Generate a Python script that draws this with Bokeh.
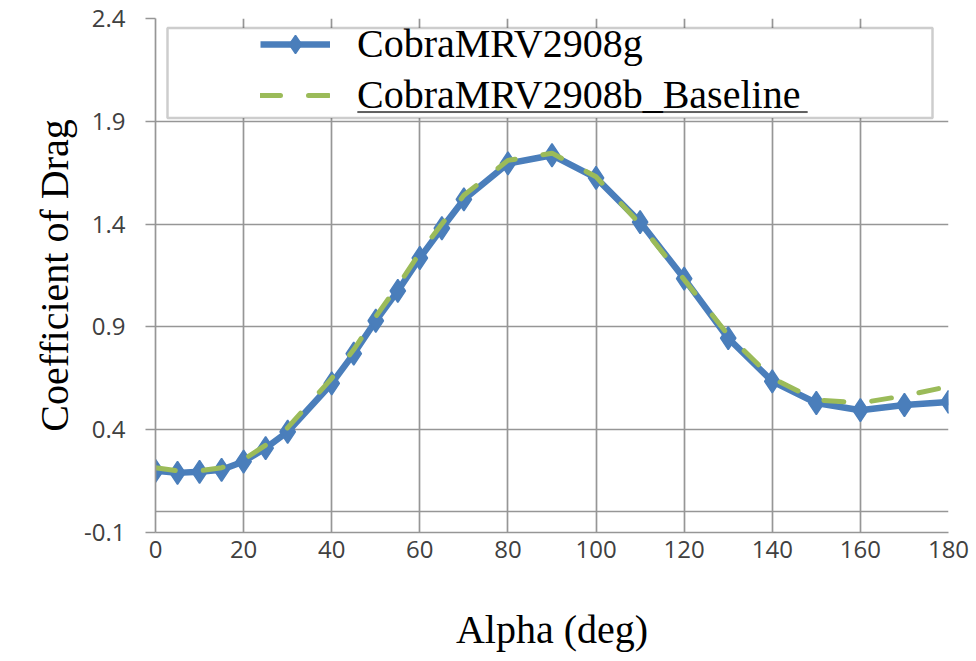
from bokeh.plotting import figure
from bokeh.models import Range1d, FixedTicker, Legend, LegendItem, BoxAnnotation
from bokeh.embed import file_html
from bokeh.resources import INLINE

# ---- data ----
alpha = [0, 5, 10, 15, 20, 25, 30, 40, 45, 50, 55, 60, 65, 70, 80, 90,
         100, 110, 120, 130, 140, 150, 160, 170, 180]
cd_g = [0.20, 0.19, 0.195, 0.205, 0.245, 0.31, 0.39, 0.625, 0.77, 0.93, 1.075,
        1.235, 1.38, 1.52, 1.695, 1.735, 1.625, 1.41, 1.135, 0.845, 0.635,
        0.53, 0.495, 0.52, 0.535]
cd_base = [0.215, 0.20, 0.20, 0.215, 0.255, 0.325, 0.41, 0.65, 0.79, 0.95, 1.10,
           1.26, 1.40, 1.54, 1.71, 1.745, 1.63, 1.40, 1.13, 0.86, 0.65,
           0.545, 0.53, 0.565, 0.61]
series_names = ["CobraMRV2908g", "CobraMRV2908b_Baseline"]
x_ticks = [0, 20, 40, 60, 80, 100, 120, 140, 160, 180]
y_ticks = [-0.1, 0.4, 0.9, 1.4, 1.9, 2.4]
y_tick_labels = ["-0.1", "0.4", "0.9", "1.4", "1.9", "2.4"]
y_grid = [-0.1, 0.0, 0.4, 0.9, 1.4, 1.9, 2.4]
x_title = "Alpha (deg)"
y_title = "Coefficient of Drag"

BLUE = "#4A7EBB"
GREEN = "#9BBB59"
GRID = "#969696"
SERIF = "Liberation Serif"
SANS = "Open Sans"

W, H = 976, 661
FL, FR, FT, FB = 155.0, 948.0, 18.5, 532.0   # frame pixel edges in reference

p = figure(width=W, height=H, x_range=Range1d(0, 180), y_range=Range1d(-0.1, 2.4),
           output_backend="svg", toolbar_location=None,
           min_border_left=int(FL), min_border_right=int(W - FR),
           min_border_top=18, min_border_bottom=int(H - FB))
p.outline_line_color = None
p.background_fill_color = "white"
p.border_fill_color = "white"

# grid
p.xgrid.ticker = FixedTicker(ticks=x_ticks)
p.ygrid.ticker = FixedTicker(ticks=y_grid)
for g in (p.xgrid, p.ygrid):
    g.grid_line_color = GRID
    g.grid_line_width = 1.7

# axes
p.xaxis.ticker = FixedTicker(ticks=x_ticks)
p.yaxis.ticker = FixedTicker(ticks=y_ticks)
p.yaxis.major_label_overrides = {t: s for t, s in zip(y_ticks, y_tick_labels)}
for ax in (p.xaxis, p.yaxis):
    ax.axis_line_color = GRID
    ax.axis_line_width = 1.7
    ax.major_tick_line_color = GRID
    ax.major_tick_line_width = 1.7
    ax.minor_tick_line_color = None
    ax.major_label_text_font = SANS
    ax.major_label_text_font_size = "24px"
    ax.major_label_text_color = "#404040"
    ax.axis_label_text_font = SERIF
    ax.axis_label_text_font_size = "40px"
    ax.axis_label_text_font_style = "normal"
    ax.axis_label_text_color = "black"
p.xaxis.major_tick_out = 0
p.xaxis.major_tick_in = 0
p.yaxis.major_tick_out = 10
p.yaxis.major_tick_in = 0
p.xaxis.major_label_standoff = 8
p.yaxis.major_label_standoff = 20
p.xaxis.axis_label = x_title
p.yaxis.axis_label = y_title
p.xaxis.axis_label_standoff = 46
p.yaxis.axis_label_standoff = 4

# series
l1 = p.line(alpha, cd_g, line_color=BLUE, line_width=6.5, line_join="round")
m1 = p.scatter(alpha, cd_g, marker="diamond", size=23, line_width=1.5,
               fill_color=BLUE, line_color=BLUE)
l2 = p.line(alpha, cd_base, line_color=GREEN, line_width=5, line_dash="20 28",
            line_cap="round")

# legend frame (drawn separately so the entries can sit inside it)
def px2x(px):
    return (px - FL) / (FR - FL) * 180.0
def px2y(py):
    return 2.4 - (py - FT) / (FB - FT) * 2.5

box = BoxAnnotation(left=px2x(167), right=px2x(932), top=px2y(28), bottom=px2y(118),
                    fill_color="white", fill_alpha=1.0,
                    line_color="#595959", line_width=2.5)
p.add_layout(box)
underline = BoxAnnotation(left=px2x(357), right=px2x(807), top=px2y(111.5),
                          bottom=px2y(112.5), fill_color="black", fill_alpha=1.0,
                          line_color="black", line_width=0.8)
p.add_layout(underline)

legend = Legend(items=[LegendItem(label=series_names[0], renderers=[l1, m1]),
                       LegendItem(label=series_names[1], renderers=[l2])],
                location=(105, 414), padding=0, margin=0, spacing=4,
                glyph_width=70, glyph_height=46, label_height=46,
                label_standoff=27, label_text_font=SERIF,
                label_text_font_size="40px", label_text_color="black",
                background_fill_alpha=0, border_line_alpha=0)
p.add_layout(legend)

open("out.html", "w").write(file_html(p, INLINE))
